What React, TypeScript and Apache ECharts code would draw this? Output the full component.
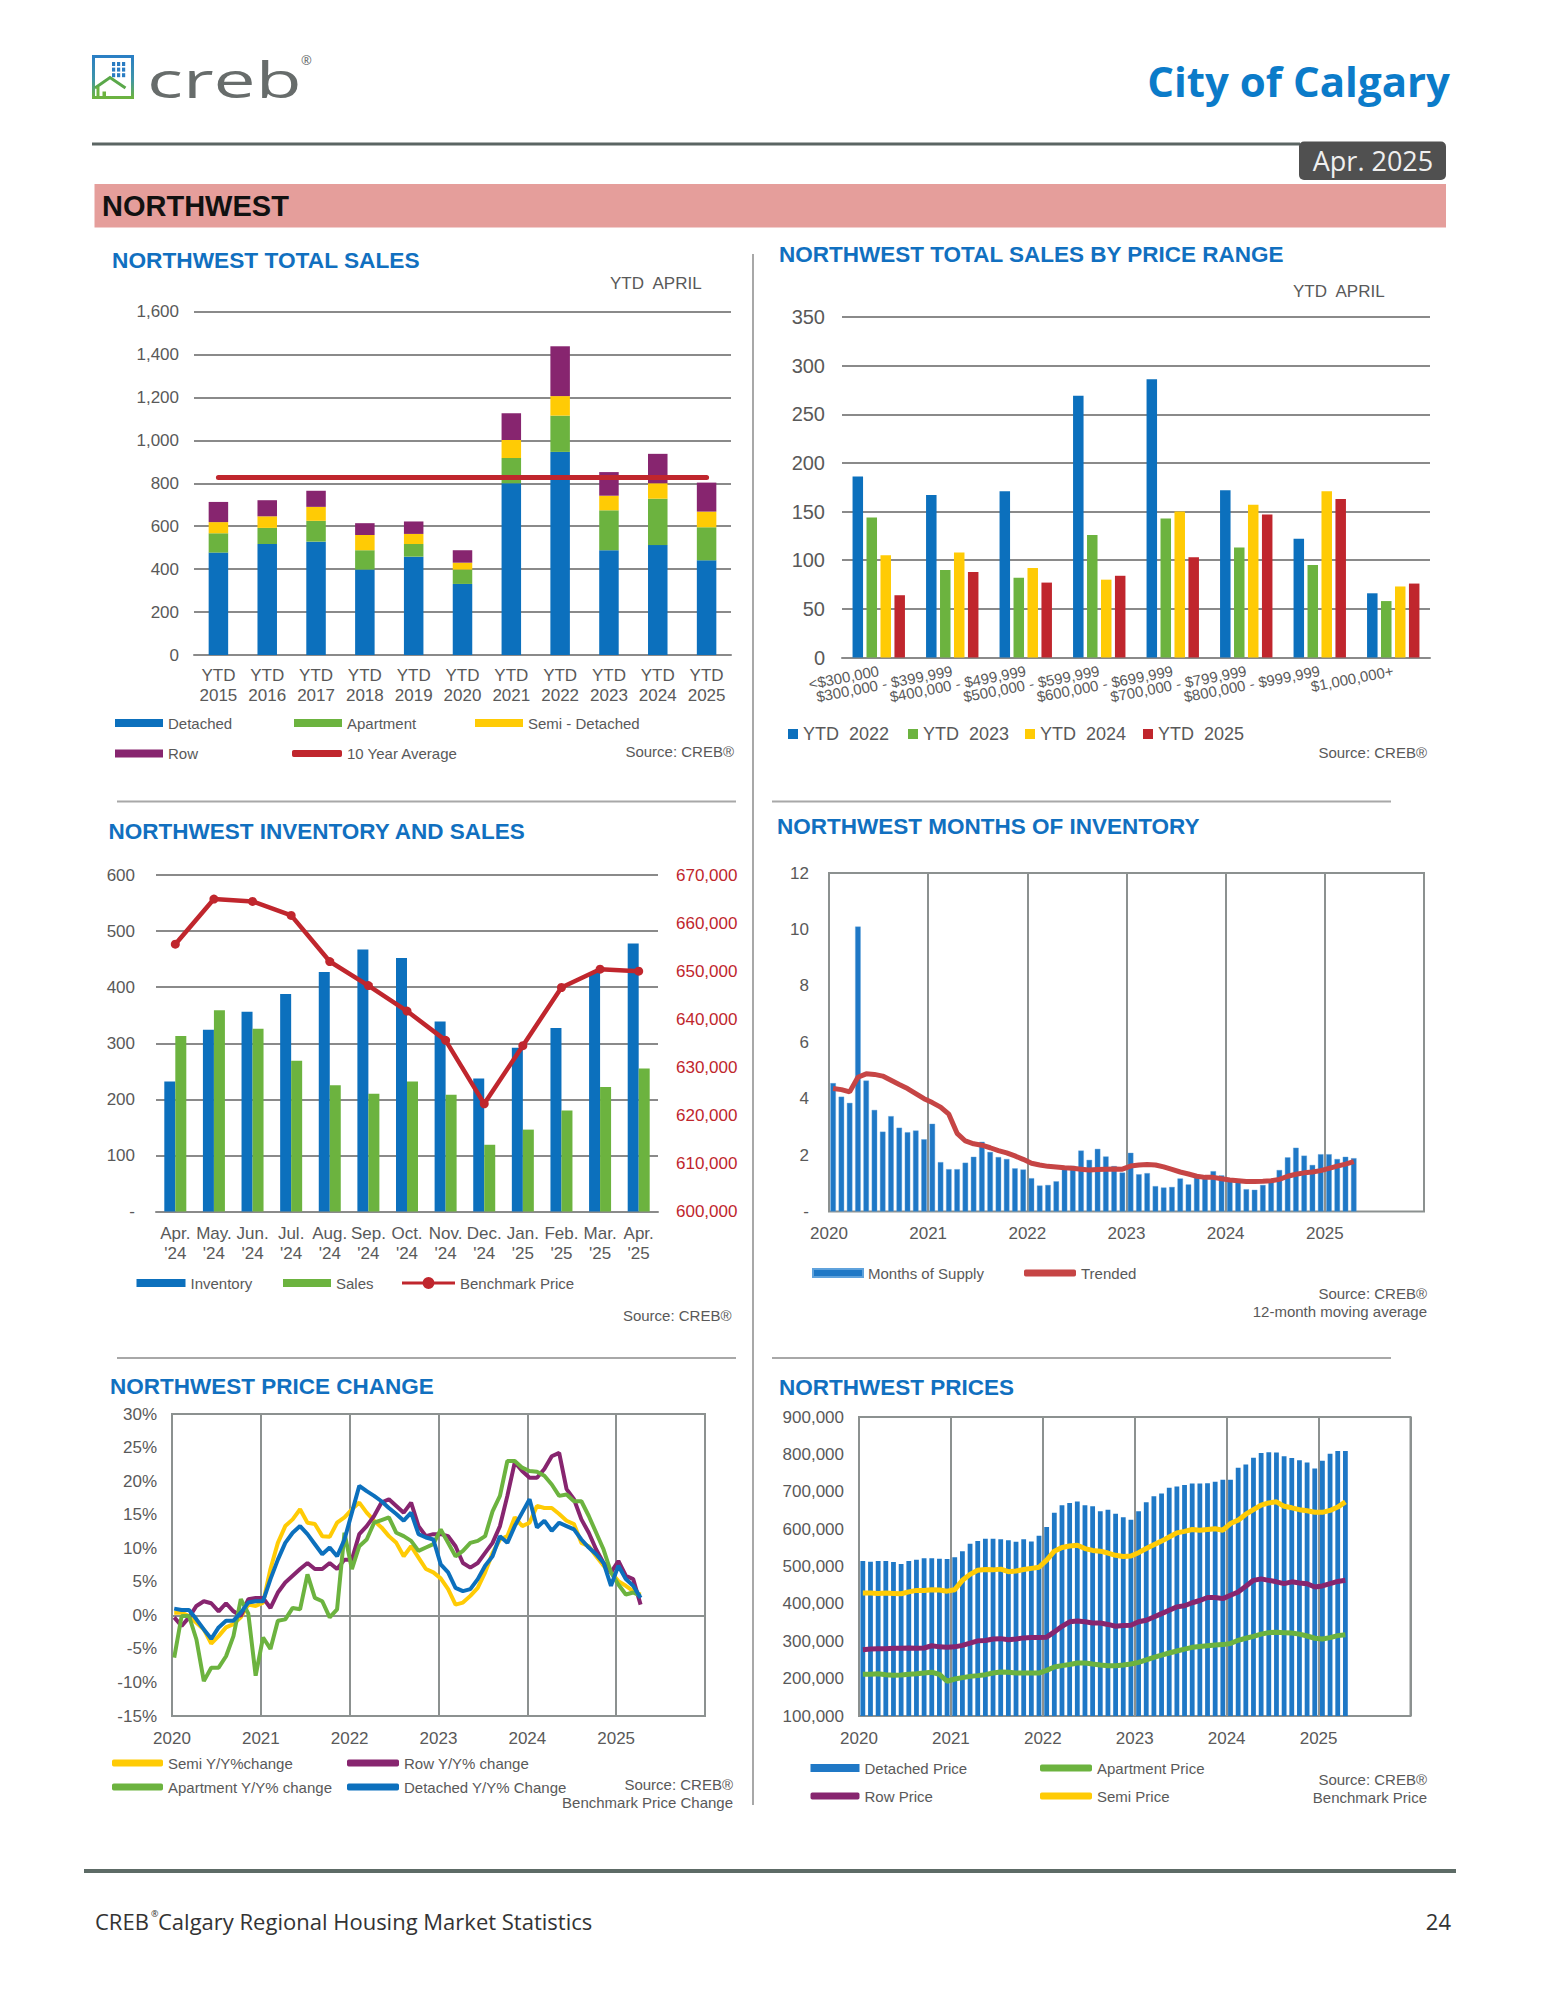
import React, { useEffect, useRef } from 'react';
import * as echarts from 'echarts';

// ---------------- DATA ----------------
const salesYears = ['YTD\n2015', 'YTD\n2016', 'YTD\n2017', 'YTD\n2018', 'YTD\n2019', 'YTD\n2020', 'YTD\n2021', 'YTD\n2022', 'YTD\n2023', 'YTD\n2024', 'YTD\n2025'];
const salesDetached = [477, 517, 528, 398, 458, 331, 800, 946, 488, 512, 441];
const salesApartment = [90, 75, 97, 90, 59, 67, 118, 169, 186, 216, 154];
const salesSemi = [52, 54, 65, 71, 47, 32, 84, 91, 68, 72, 73];
const salesRow = [94, 75, 75, 55, 58, 58, 124, 232, 110, 137, 135];
const tenYearAverage = 827;

const priceRanges = ['<$300,000', '$300,000 - $399,999', '$400,000 - $499,999', '$500,000 - $599,999', '$600,000 - $699,999', '$700,000 - $799,999', '$800,000 - $999,999', '$1,000,000+'];
const ytd2022 = [186, 167, 171, 269, 286, 172, 122, 66];
const ytd2023 = [144, 90, 82, 126, 143, 113, 95, 58];
const ytd2024 = [105, 108, 92, 80, 150, 157, 171, 73];
const ytd2025 = [64, 88, 77, 84, 103, 147, 163, 76];

const invMonths = ["Apr.\n'24", "May.\n'24", "Jun.\n'24", "Jul.\n'24", "Aug.\n'24", "Sep.\n'24", "Oct.\n'24", "Nov.\n'24", "Dec.\n'24", "Jan.\n'25", "Feb.\n'25", "Mar.\n'25", "Apr.\n'25"];
const inventory = [232, 324, 356, 388, 427, 467, 452, 339, 237, 292, 327, 427, 478];
const monthlySales = [313, 359, 326, 269, 225, 210, 232, 208, 119, 146, 180, 222, 255];
const benchmarkPrice = [655600, 665000, 664500, 661600, 652000, 647000, 641700, 635600, 622400, 634500, 646600, 650400, 650000];

const yearLabels = ['2020', '2021', '2022', '2023', '2024', '2025'];

// monthly Jan 2020 - Apr 2025
const monthsOfSupply = [
  4.55, 4.07, 3.85, 10.1, 4.64, 3.6, 2.83, 3.38, 2.97, 2.81, 2.87, 2.56,
  3.11, 1.75, 1.5, 1.5, 1.73, 1.94, 2.47, 2.11, 1.93, 1.86, 1.53, 1.49,
  1.18, 0.92, 0.94, 1.07, 1.53, 1.62, 2.16, 1.83, 2.22, 1.95, 1.61, 1.38,
  2.08, 1.32, 1.36, 0.9, 0.85, 0.87, 1.17, 0.96, 1.2, 1.28, 1.43, 1.28,
  1.1, 1.1, 0.79, 0.77, 0.94, 1.1, 1.47, 1.92, 2.26, 1.98, 1.65, 2.03,
  2.03, 1.86, 1.94, 1.89,
];
const trended = [
  4.36, 4.32, 4.24, 4.76, 4.88, 4.86, 4.8, 4.65, 4.5, 4.36, 4.18, 4.0,
  3.86, 3.7, 3.45, 2.77, 2.5, 2.4, 2.35, 2.26, 2.16, 2.08, 1.97, 1.85,
  1.71, 1.65, 1.6, 1.58, 1.55, 1.53, 1.5, 1.47, 1.49, 1.5, 1.51, 1.5,
  1.61, 1.65, 1.67, 1.65, 1.58, 1.49, 1.4, 1.33, 1.25, 1.21, 1.21, 1.16,
  1.12, 1.09, 1.06, 1.06, 1.07, 1.09, 1.14, 1.25, 1.32, 1.37, 1.4, 1.45,
  1.53, 1.61, 1.68, 1.77,
];

const semiChange = [
  0.4, 0.4, -0.1, -1.1, -2.1, -4.2, -3.1, -1.8, -1.3, -0.3, 1.6, 1.4,
  1.9, 6.9, 10.8, 13.3, 14.3, 15.8, 13.8, 13.6, 11.8, 11.7, 13.8, 14.6,
  15.8, 16.8, 15.3, 14.1, 13.1, 11.8, 10.8, 8.8, 10.3, 8.6, 6.9, 6.4,
  5.5, 3.9, 1.6, 1.9, 2.9, 4.1, 6.4, 9.3, 11.3, 11.8, 14.6, 13.3,
  13.8, 16.3, 16.0, 16.0, 15.1, 14.1, 13.6, 10.8, 10.3, 8.8, 7.4, 6.4,
  5.1, 4.4, 3.6, 3.1,
];
const rowChange = [
  -0.3, -1.6, -0.3, 1.4, 2.1, 1.8, 0.6, 1.8, 0.6, -0.1, 2.4, 2.6,
  2.6, 1.1, 3.4, 4.9, 5.9, 6.9, 7.8, 6.9, 6.9, 7.8, 6.9, 8.3,
  8.3, 12.1, 13.3, 14.8, 16.8, 17.3, 16.3, 15.3, 16.8, 13.3, 11.8, 12.1,
  12.1, 11.8, 10.3, 7.8, 7.1, 7.8, 9.3, 10.8, 13.3, 17.8, 22.8, 21.5,
  20.5, 20.5, 21.8, 23.7, 24.2, 18.8, 17.3, 14.3, 12.3, 9.8, 7.8, 6.4,
  8.1, 5.9, 5.4, 1.6,
];
const apartmentChange = [
  -6.3, -0.1, -0.1, -3.6, -9.8, -7.8, -7.8, -6.1, -3.1, 2.4, 0.3, -9.0,
  -3.3, -5.0, -0.8, -0.6, 1.1, 0.9, 6.1, 2.6, 2.1, -0.3, 0.9, 12.3,
  6.9, 10.3, 11.3, 13.8, 14.2, 14.6, 12.3, 11.8, 11.1, 9.6, 10.1, 10.6,
  12.8, 10.8, 8.8, 9.6, 10.8, 11.1, 11.8, 15.5, 17.8, 23.0, 23.0, 22.0,
  21.5, 21.4, 20.8, 19.5, 17.8, 18.0, 17.0, 17.0, 14.8, 12.3, 9.8, 6.4,
  4.6, 3.1, 3.4, 2.9,
];
const detachedChange = [
  1.0, 0.8, 0.8, -0.6, -2.1, -3.5, -1.8, -0.8, -0.8, 0.4, 1.9, 2.1,
  2.1, 5.4, 8.3, 10.8, 12.3, 13.3, 12.1, 10.6, 9.1, 10.1, 8.8, 11.3,
  15.3, 19.3, 18.5, 17.8, 17.0, 16.0, 15.1, 14.1, 15.3, 12.1, 11.6, 11.3,
  7.6, 6.4, 4.1, 3.6, 3.9, 5.4, 7.4, 8.8, 11.8, 10.8, 13.3, 15.3,
  17.3, 13.1, 14.1, 12.6, 13.8, 13.3, 12.8, 11.3, 10.1, 9.1, 7.8, 4.4,
  7.4, 5.4, 4.4, 2.6,
];

const detachedPrice = [
  514700, 513000, 515000, 515000, 512000, 507000, 515000, 518000, 522000, 522000, 521000, 520000,
  525000, 541000, 561000, 568000, 574000, 574000, 573000, 570000, 566000, 573000, 567000, 582000,
  606000, 644000, 664000, 670000, 674000, 664000, 661000, 648000, 652000, 641000, 632000, 625000,
  648000, 672000, 688000, 695000, 711000, 714000, 718000, 722000, 722000, 723000, 727000, 732000,
  732000, 764000, 773000, 791000, 804000, 806000, 805000, 795000, 790000, 784000, 778000, 762000,
  783000, 802000, 809000, 809000,
];
const apartmentPrice = [
  211500, 212000, 213000, 210600, 209000, 210000, 211500, 213000, 215000, 217000, 211500, 193000,
  199000, 202600, 206000, 208000, 210600, 215000, 217700, 217000, 215000, 215000, 215000, 215000,
  222000, 231000, 234700, 238000, 241600, 241600, 239000, 236500, 234700, 234700, 236500, 239000,
  243600, 250000, 257000, 263000, 268600, 274000, 279000, 283700, 286000, 288000, 290000, 291000,
  294000, 302500, 308000, 313000, 319000, 323000, 324000, 323000, 322000, 319000, 314000, 308000,
  306000, 309600, 315000, 317600,
];
const rowPrice = [
  277000, 279000, 280000, 280000, 281000, 281000, 282000, 281000, 282000, 288000, 285000, 284000,
  285000, 289000, 295000, 301000, 302000, 306000, 307000, 304000, 306000, 309000, 310000, 310000,
  311000, 325000, 340000, 352000, 354000, 352000, 349000, 349000, 345000, 340000, 342000, 343000,
  352000, 356000, 365000, 374000, 383000, 392000, 395000, 403000, 409000, 417000, 417000, 414000,
  423000, 432000, 447000, 463000, 467000, 463000, 459000, 454000, 459000, 456000, 454000, 445000,
  448000, 454000, 460000, 463000,
];
const semiPrice = [
  429000, 429000, 428000, 429000, 428000, 427000, 432000, 436000, 436000, 438000, 437000, 434000,
  438000, 463000, 479000, 490000, 492000, 491000, 493000, 486000, 488000, 492000, 495000, 498000,
  517000, 541000, 551000, 555000, 557000, 548000, 543000, 541000, 536000, 530000, 527000, 528000,
  537000, 548000, 558000, 568000, 579000, 590000, 594000, 599000, 597000, 599000, 601000, 597000,
  615000, 624000, 640000, 652000, 664000, 670000, 673000, 661000, 657000, 652000, 649000, 645000,
  645000, 650000, 659000, 673000,
];

// ---------------- STYLE ----------------
const FF = '"Liberation Sans", Arial, Helvetica, sans-serif';
const OS = '"Open Sans", "Liberation Sans", sans-serif';
const GRAY = '#595959';
const BLUE = '#0c70bd';
const BAR_BLUE = '#1f78c6';
const GREEN = '#6cb33f';
const YELLOW = '#ffcb05';
const PURPLE = '#87256f';
const RED = '#c0262d';
const TREND_RED = '#c64545';
const TITLE_BLUE = '#1170c0';
const GRIDLINE = '#8a8a8a';
const BOX = '#8c9190';
const SEP = '#a8a8a8';

const commas = (v: number) => String(Math.round(v)).replace(/\B(?=(\d{3})+(?!\d))/g, ',');
const yearFmt = (v: number) => (v % 12 === 0 && v < 72 ? yearLabels[v / 12] : '');
const monthPts = (arr: number[], off: number) => arr.map((v, i) => [i + off, v]);

function txt(x: number, y: number, text: string, o: any = {}) {
  const align = o.align || 'left';
  return {
    type: 'text',
    x,
    y,
    silent: true,
    z: 100,
    style: {
      text,
      fill: o.fill || GRAY,
      fontSize: o.size || 15,
      fontWeight: o.weight || 'normal',
      fontFamily: o.family || FF,
      align,
      textAlign: align,
      verticalAlign: 'middle',
      textVerticalAlign: 'middle',
    },
    ...(o.scaleX ? { scaleX: o.scaleX } : {}),
  };
}
function hline(x1: number, x2: number, y: number, color: string, w: number) {
  return { type: 'line', silent: true, shape: { x1, y1: y, x2, y2: y }, style: { stroke: color, lineWidth: w } };
}
function vline(x: number, y1: number, y2: number, color: string, w: number) {
  return { type: 'line', silent: true, shape: { x1: x, y1, x2: x, y2 }, style: { stroke: color, lineWidth: w } };
}
function lg(name: string, left: number, centerY: number, icon: string | undefined, w: number, h: number, size = 15) {
  const boxH = Math.max(h, size + 2);
  return {
    show: true,
    left,
    top: centerY - boxH / 2,
    orient: 'horizontal',
    padding: 0,
    itemGap: 0,
    selectedMode: false,
    itemWidth: w,
    itemHeight: h,
    data: [icon ? { name, icon } : { name }],
    textStyle: { color: GRAY, fontSize: size, fontFamily: FF },
  };
}

const valAxisLabel = (size: number, margin: number, formatter: any, color = GRAY) => ({
  color,
  fontSize: size,
  margin,
  fontFamily: FF,
  formatter,
});

const BENCH_ICON =
  'path://M0,5.5L21,5.5L21,8.5L0,8.5Z M32,5.5L53,5.5L53,8.5L32,8.5Z M20.5,7A6,6 0 1 1 32.5,7A6,6 0 1 1 20.5,7Z';

function buildOption() {
  const logoGrad = new echarts.graphic.LinearGradient(0, 0, 0, 1, [
    { offset: 0, color: '#2a7fc4' },
    { offset: 0.55, color: '#3f95a8' },
    { offset: 1, color: '#6cb33f' },
  ]);
  const squares: any[] = [];
  for (let r = 0; r < 3; r++) {
    for (let c = 0; c < 3; c++) {
      squares.push({ type: 'rect', silent: true, shape: { x: 112 + c * 5, y: 62 + r * 5.6, width: 3.2, height: 4 }, style: { fill: '#2a7cc2' } });
    }
  }

  const graphic: any[] = [
    // logo
    { type: 'rect', silent: true, shape: { x: 93.5, y: 56.5, width: 39, height: 41 }, style: { fill: 'none', stroke: logoGrad, lineWidth: 3 } },
    ...squares,
    { type: 'polyline', silent: true, shape: { points: [[95, 88], [110, 77.5], [125.5, 88]] }, style: { fill: 'none', stroke: '#5aa84a', lineWidth: 3 } },
    vline(98, 87, 97, '#6cb33f', 3),
    { type: 'rect', silent: true, shape: { x: 102.5, y: 91.5, width: 3.5, height: 6 }, style: { fill: '#6cb33f' } },
    txt(147, 79, 'creb', { size: 50, family: '"Open Sans", sans-serif', fill: '#676c6b', scaleX: 1.5 }),
    txt(301, 60, '®', { size: 13, family: OS, fill: '#676c6b' }),
    // header
    txt(1450, 80, 'City of Calgary', { size: 42, weight: 'bold', family: OS, fill: '#0b7bc9', align: 'right' }),
    hline(92, 1300, 144, '#5b6563', 3),
    { type: 'rect', silent: true, shape: { x: 1299, y: 141.5, width: 147, height: 38.5, r: 5 }, style: { fill: '#505050' } },
    txt(1373, 160.5, 'Apr. 2025', { size: 27, family: OS, fill: '#efefef', align: 'center' }),
    { type: 'rect', silent: true, shape: { x: 94.5, y: 184, width: 1351.5, height: 43.5 }, style: { fill: '#e59e9b' } },
    txt(102, 205.5, 'NORTHWEST', { size: 29, weight: 'bold', fill: '#111111' }),
    // separators
    vline(753, 254, 1805, SEP, 2),
    hline(117, 736, 801.5, SEP, 2),
    hline(772, 1391, 801.5, SEP, 2),
    hline(117, 736, 1358, SEP, 2),
    hline(772, 1391, 1358, SEP, 2),
    // titles
    txt(112, 260, 'NORTHWEST TOTAL SALES', { size: 22.7, weight: 'bold', fill: TITLE_BLUE }),
    txt(779, 254, 'NORTHWEST TOTAL SALES BY PRICE RANGE', { size: 22.5, weight: 'bold', fill: TITLE_BLUE }),
    txt(108.5, 831, 'NORTHWEST INVENTORY AND SALES', { size: 22.5, weight: 'bold', fill: TITLE_BLUE }),
    txt(777, 826, 'NORTHWEST MONTHS OF INVENTORY', { size: 22.5, weight: 'bold', fill: TITLE_BLUE }),
    txt(110, 1386, 'NORTHWEST PRICE CHANGE', { size: 22.5, weight: 'bold', fill: TITLE_BLUE }),
    txt(779, 1387, 'NORTHWEST PRICES', { size: 22.5, weight: 'bold', fill: TITLE_BLUE }),
    // subtitles / sources
    txt(610, 283, 'YTD  APRIL', { size: 17 }),
    txt(1293, 291, 'YTD  APRIL', { size: 17 }),
    txt(734, 751, 'Source: CREB®', { align: 'right' }),
    txt(1427, 752, 'Source: CREB®', { align: 'right' }),
    txt(731.5, 1315, 'Source: CREB®', { align: 'right' }),
    txt(1427, 1293, 'Source: CREB®', { align: 'right' }),
    txt(1427, 1311, '12-month moving average', { align: 'right' }),
    txt(733, 1784.5, 'Source: CREB®', { align: 'right' }),
    txt(733, 1802, 'Benchmark Price Change', { align: 'right' }),
    txt(1427, 1779.5, 'Source: CREB®', { align: 'right' }),
    txt(1427, 1797, 'Benchmark Price', { align: 'right' }),
    // footer
    hline(84, 1456, 1871, '#5d6b66', 4),
    txt(95, 1921, 'CREB', { size: 22, family: OS, fill: '#333333' }),
    txt(151, 1913, '®', { size: 9, family: OS, fill: '#333333' }),
    txt(158, 1921, 'Calgary Regional Housing Market Statistics', { size: 22, family: OS, fill: '#333333' }),
    txt(1451, 1921, '24', { size: 22, family: OS, fill: '#333333', align: 'right' }),
  ];

  const boxGrid = { show: true, borderColor: BOX, borderWidth: 2, backgroundColor: 'transparent' };

  const monthXAxis = (gridIndex: number, margin: number) => ({
    type: 'value',
    gridIndex,
    min: 0,
    max: 72,
    interval: 12,
    axisLine: { show: false },
    axisTick: { show: false },
    splitLine: { show: true, lineStyle: { color: BOX, width: 2 } },
    axisLabel: { color: GRAY, fontSize: 17, margin, fontFamily: FF, formatter: yearFmt, showMaxLabel: false },
  });

  const catAxisLine = { show: true, lineStyle: { color: GRIDLINE, width: 2 } };

  return {
    animation: false,
    backgroundColor: '#ffffff',
    textStyle: { fontFamily: FF },
    grid: [
      { left: 194, top: 311.5, width: 537, height: 343.5 },
      { left: 842, top: 317, width: 588, height: 340.5 },
      { left: 156, top: 875, width: 502, height: 336.5 },
      { left: 829, top: 873, width: 595, height: 338.5, ...boxGrid },
      { left: 172, top: 1414, width: 533, height: 302, ...boxGrid },
      { left: 859, top: 1417, width: 551.5, height: 299, ...boxGrid },
    ],
    xAxis: [
      {
        type: 'category', gridIndex: 0, data: salesYears, axisLine: catAxisLine, axisTick: { show: false },
        axisLabel: { color: GRAY, fontSize: 17, lineHeight: 20, margin: 10, interval: 0, fontFamily: FF },
      },
      {
        type: 'category', gridIndex: 1, data: priceRanges, axisLine: catAxisLine, axisTick: { show: false },
        axisLabel: { color: GRAY, fontSize: 15, margin: 13, interval: 0, rotate: 11, fontFamily: FF },
      },
      {
        type: 'category', gridIndex: 2, data: invMonths, axisLine: catAxisLine, axisTick: { show: false },
        axisLabel: { color: GRAY, fontSize: 17, lineHeight: 20, margin: 12, interval: 0, fontFamily: FF },
      },
      monthXAxis(3, 13.5),
      monthXAxis(4, 14),
      monthXAxis(5, 14),
    ],
    yAxis: [
      {
        type: 'value', gridIndex: 0, min: 0, max: 1600, interval: 200,
        axisLine: { show: false }, axisTick: { show: false },
        splitLine: { lineStyle: { color: GRIDLINE, width: 2 } },
        axisLabel: valAxisLabel(17, 15, commas),
      },
      {
        type: 'value', gridIndex: 1, min: 0, max: 350, interval: 50,
        axisLine: { show: false }, axisTick: { show: false },
        splitLine: { lineStyle: { color: GRIDLINE, width: 2 } },
        axisLabel: valAxisLabel(20, 17, (v: number) => String(v)),
      },
      {
        type: 'value', gridIndex: 2, min: 0, max: 600, interval: 100,
        axisLine: { show: false }, axisTick: { show: false },
        splitLine: { lineStyle: { color: GRIDLINE, width: 2 } },
        axisLabel: valAxisLabel(17, 21, (v: number) => (v === 0 ? '-' : String(v))),
      },
      {
        type: 'value', gridIndex: 2, position: 'right', min: 600000, max: 670000, interval: 10000,
        axisLine: { show: false }, axisTick: { show: false }, splitLine: { show: false },
        axisLabel: valAxisLabel(17, 18, commas, '#c0262d'),
      },
      {
        type: 'value', gridIndex: 3, min: 0, max: 12, interval: 2,
        axisLine: { show: false }, axisTick: { show: false }, splitLine: { show: false },
        axisLabel: valAxisLabel(17, 20, (v: number) => (v === 0 ? '-' : String(v))),
      },
      {
        type: 'value', gridIndex: 4, min: -15, max: 30, interval: 5,
        axisLine: { show: false }, axisTick: { show: false }, splitLine: { show: false },
        axisLabel: valAxisLabel(17, 15, (v: number) => v + '%'),
      },
      {
        type: 'value', gridIndex: 5, min: 100000, max: 900000, interval: 100000,
        axisLine: { show: false }, axisTick: { show: false }, splitLine: { show: false },
        axisLabel: valAxisLabel(17, 15, commas),
      },
    ],
    legend: [
      lg('Detached', 115, 724, 'rect', 48, 8),
      lg('Apartment', 294, 724, 'rect', 48, 8),
      lg('Semi - Detached', 475, 724, 'rect', 48, 8),
      lg('Row', 115, 754.5, 'rect', 48, 8),
      lg('10 Year Average', 292, 754.5, 'roundRect', 50, 7),
      lg('YTD  2022', 788, 735, 'rect', 10, 10, 18),
      lg('YTD  2023', 908, 735, 'rect', 10, 10, 18),
      lg('YTD  2024', 1025, 735, 'rect', 10, 10, 18),
      lg('YTD  2025', 1143, 735, 'rect', 10, 10, 18),
      lg('Inventory', 136.5, 1284, 'rect', 49, 8),
      lg('Sales', 283, 1284, 'rect', 48, 8),
      lg('Benchmark Price', 402, 1284, BENCH_ICON, 53, 12),
      lg('Months of Supply', 812, 1274, 'rect', 50, 8),
      lg('Trended', 1024, 1274, 'roundRect', 52, 7),
      lg('Semi Y/Y%change', 112, 1764, 'roundRect', 51, 7),
      lg('Row Y/Y% change', 347, 1764, 'roundRect', 52, 7),
      lg('Apartment Y/Y% change', 112, 1788, 'roundRect', 51, 7),
      lg('Detached Y/Y% Change', 347, 1788, 'roundRect', 52, 7),
      lg('Detached Price', 810.5, 1769, 'rect', 49, 8),
      lg('Apartment Price', 1040, 1769, 'roundRect', 52, 7),
      lg('Row Price', 810.5, 1797, 'roundRect', 49, 7),
      lg('Semi Price', 1040, 1797, 'roundRect', 52, 7),
    ],
    series: [
      // Panel 1
      { name: 'Detached', type: 'bar', xAxisIndex: 0, yAxisIndex: 0, stack: 'ts', barWidth: 19.5, data: salesDetached, itemStyle: { color: BLUE } },
      { name: 'Apartment', type: 'bar', xAxisIndex: 0, yAxisIndex: 0, stack: 'ts', barWidth: 19.5, data: salesApartment, itemStyle: { color: GREEN } },
      { name: 'Semi - Detached', type: 'bar', xAxisIndex: 0, yAxisIndex: 0, stack: 'ts', barWidth: 19.5, data: salesSemi, itemStyle: { color: YELLOW } },
      { name: 'Row', type: 'bar', xAxisIndex: 0, yAxisIndex: 0, stack: 'ts', barWidth: 19.5, data: salesRow, itemStyle: { color: PURPLE } },
      {
        name: '10 Year Average', type: 'line', xAxisIndex: 0, yAxisIndex: 0, data: salesYears.map(() => tenYearAverage),
        showSymbol: false, symbol: 'none', lineStyle: { color: RED, width: 5, cap: 'round' }, itemStyle: { color: RED }, z: 5,
      },
      // Panel 2
      { name: 'YTD  2022', type: 'bar', xAxisIndex: 1, yAxisIndex: 1, barWidth: 10.5, barGap: '33%', data: ytd2022, itemStyle: { color: BLUE } },
      { name: 'YTD  2023', type: 'bar', xAxisIndex: 1, yAxisIndex: 1, barWidth: 10.5, barGap: '33%', data: ytd2023, itemStyle: { color: GREEN } },
      { name: 'YTD  2024', type: 'bar', xAxisIndex: 1, yAxisIndex: 1, barWidth: 10.5, barGap: '33%', data: ytd2024, itemStyle: { color: YELLOW } },
      { name: 'YTD  2025', type: 'bar', xAxisIndex: 1, yAxisIndex: 1, barWidth: 10.5, barGap: '33%', data: ytd2025, itemStyle: { color: RED } },
      // Panel 3
      { name: 'Inventory', type: 'bar', xAxisIndex: 2, yAxisIndex: 2, barWidth: 11, barGap: '0%', data: inventory, itemStyle: { color: BLUE } },
      { name: 'Sales', type: 'bar', xAxisIndex: 2, yAxisIndex: 2, barWidth: 11, barGap: '0%', data: monthlySales, itemStyle: { color: GREEN } },
      {
        name: 'Benchmark Price', type: 'line', xAxisIndex: 2, yAxisIndex: 3, data: benchmarkPrice,
        symbol: 'circle', symbolSize: 9, lineStyle: { color: RED, width: 4.5 }, itemStyle: { color: RED }, z: 5,
      },
      // Panel 4
      {
        name: 'Months of Supply', type: 'bar', xAxisIndex: 3, yAxisIndex: 4, barWidth: 5.5, data: monthPts(monthsOfSupply, 0.5),
        itemStyle: { color: BAR_BLUE, borderColor: '#5fa2dc', borderWidth: 0.4 },
      },
      {
        name: 'Trended', type: 'line', xAxisIndex: 3, yAxisIndex: 4, data: monthPts(trended, 0.5), showSymbol: false, symbol: 'none',
        lineStyle: { color: TREND_RED, width: 5 }, itemStyle: { color: TREND_RED }, z: 5,
      },
      // Panel 5
      {
        name: 'Semi Y/Y%change', type: 'line', xAxisIndex: 4, yAxisIndex: 5, data: monthPts(semiChange, 0.3), showSymbol: false, symbol: 'none',
        lineStyle: { color: YELLOW, width: 4 }, itemStyle: { color: YELLOW },
        markLine: { silent: true, symbol: 'none', label: { show: false }, lineStyle: { color: BOX, width: 2, type: 'solid' }, data: [{ yAxis: 0 }], z: 1 },
      },
      {
        name: 'Row Y/Y% change', type: 'line', xAxisIndex: 4, yAxisIndex: 5, data: monthPts(rowChange, 0.3), showSymbol: false, symbol: 'none',
        lineStyle: { color: PURPLE, width: 4 }, itemStyle: { color: PURPLE },
      },
      {
        name: 'Apartment Y/Y% change', type: 'line', xAxisIndex: 4, yAxisIndex: 5, data: monthPts(apartmentChange, 0.3), showSymbol: false, symbol: 'none',
        lineStyle: { color: GREEN, width: 4 }, itemStyle: { color: GREEN },
      },
      {
        name: 'Detached Y/Y% Change', type: 'line', xAxisIndex: 4, yAxisIndex: 5, data: monthPts(detachedChange, 0.3), showSymbol: false, symbol: 'none',
        lineStyle: { color: BLUE, width: 4 }, itemStyle: { color: BLUE },
      },
      // Panel 6
      {
        name: 'Detached Price', type: 'bar', xAxisIndex: 5, yAxisIndex: 6, barWidth: 4.8, clip: true, data: monthPts(detachedPrice, 0.5),
        itemStyle: { color: BAR_BLUE },
      },
      {
        name: 'Apartment Price', type: 'line', xAxisIndex: 5, yAxisIndex: 6, data: monthPts(apartmentPrice, 0.5), showSymbol: false, symbol: 'none',
        lineStyle: { color: GREEN, width: 5 }, itemStyle: { color: GREEN }, z: 5,
      },
      {
        name: 'Row Price', type: 'line', xAxisIndex: 5, yAxisIndex: 6, data: monthPts(rowPrice, 0.5), showSymbol: false, symbol: 'none',
        lineStyle: { color: PURPLE, width: 5 }, itemStyle: { color: PURPLE }, z: 5,
      },
      {
        name: 'Semi Price', type: 'line', xAxisIndex: 5, yAxisIndex: 6, data: monthPts(semiPrice, 0.5), showSymbol: false, symbol: 'none',
        lineStyle: { color: YELLOW, width: 5 }, itemStyle: { color: YELLOW }, z: 5,
      },
    ],
    graphic,
  };
}

export default function App() {
  const ref = useRef<HTMLDivElement>(null);
  useEffect(() => {
    if (!ref.current) return;
    const chart = echarts.init(ref.current, undefined, { renderer: 'svg', width: 1545, height: 2000 });
    chart.setOption(buildOption() as any);
    return () => {
      chart.dispose();
    };
  }, []);
  return (
    <div
      ref={ref}
      style={{ position: 'absolute', left: 0, top: 0, width: 1545, height: 2000, background: '#ffffff' }}
    />
  );
}
